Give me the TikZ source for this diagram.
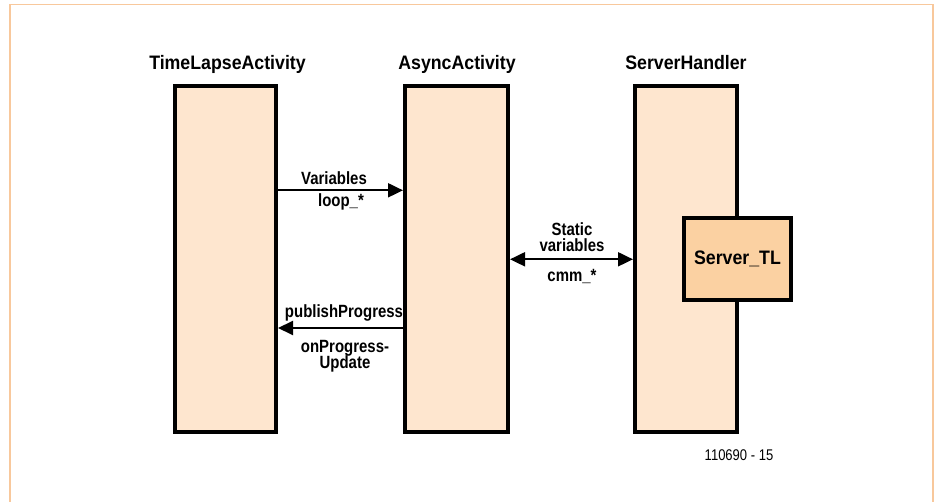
\documentclass[tikz,border=0pt]{standalone}
\usepackage{fontspec}
\setmainfont{Liberation Sans}
\newfontfamily\ttlfont[FakeStretch=0.91]{Liberation Sans}
\newfontfamily\lblfont[FakeStretch=0.845]{Liberation Sans}
\newfontfamily\numfont[FakeStretch=0.84]{Liberation Sans}
\usetikzlibrary{arrows.meta}
\definecolor{boxfill}{HTML}{FEE6CF}
\definecolor{srvfill}{HTML}{FBD1A2}
\definecolor{framec}{HTML}{F8C89C}
\tikzset{
  lifebox/.style={draw=black, line width=4pt, fill=boxfill, minimum width=#1, minimum height=346pt, inner sep=0pt},
  srvbox/.style={draw=black, line width=4pt, fill=srvfill, minimum width=107pt, minimum height=82pt, inner sep=0pt,
    font=\ttlfont\bfseries\fontsize{19.5}{22}\selectfont},
  ttl/.style={anchor=base, inner sep=0pt, font=\ttlfont\bfseries\fontsize{19.5}{22}\selectfont},
  lbl/.style={anchor=base, inner sep=0pt, font=\lblfont\bfseries\fontsize{17.7}{16.5}\selectfont},
  msg/.style={line width=2pt, -{Triangle[length=15pt,width=14pt]}},
  msgboth/.style={line width=2pt, {Triangle[length=15pt,width=14pt]}-{Triangle[length=15pt,width=14pt]}},
}
\begin{document}
\begin{tikzpicture}[x=1pt,y=-1pt]
\useasboundingbox (0,0) rectangle (938,502);
% frame
\draw[framec, line width=1.5pt] (10,510) -- (10,4.5) -- (933,4.5) -- (933,510);
% lifeline boxes
\node[lifebox=101pt] (b1) at (225.5,259) {};
\node[lifebox=103pt] (b2) at (456.5,259) {};
\node[lifebox=102pt] (b3) at (686,259) {};
\node[srvbox] (srv) at (737.5,259) {Server\_TL};
% titles
\node[ttl] (t1) at (227.5,70) {TimeLapseActivity};
\node[ttl] (t2) at (457,70) {AsyncActivity};
\node[ttl] (t3) at (686,70) {ServerHandler};
% connector levels
\coordinate (y1) at (0,190.3);
\coordinate (y2) at (0,328);
\coordinate (y3) at (0,259.3);
\draw[msg] (b1.east |- y1) -- (b2.west |- y1);
\draw[msg] (b2.west |- y2) -- (b1.east |- y2);
\draw[msgboth] (b2.east |- y3) -- (b3.west |- y3);
% labels
\node[lbl] (l1) at (334,185) {Variables};
\node[lbl] (l2) at (341,206.5) {loop\_*};
\node[lbl] (l3) at (344,318) {publishProgress};
\node[lbl] (l4) at (345,352.5) {onProgress-};
\node[lbl] (l5) at (345,368.5) {Update};
\node[lbl] (l6) at (572,235.7) {Static};
\node[lbl] (l7) at (572,251.7) {variables};
\node[lbl] (l8) at (572,281.5) {cmm\_*};
% figure number
\node[anchor=base, inner sep=0pt, font=\numfont\fontsize{15.5}{18}\selectfont] (fig) at (739,461) {110690 - 15};
\end{tikzpicture}
\end{document}
